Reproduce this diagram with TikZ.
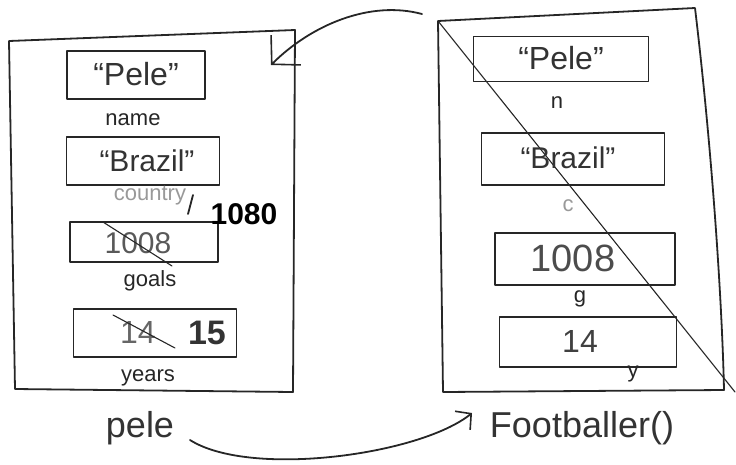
\documentclass[tikz,border=0pt]{standalone}
\usepackage{fontspec}
\setmainfont{Liberation Sans}
\usetikzlibrary{arrows.meta}
\begin{document}
\begin{tikzpicture}[x=1pt,y=-1pt,
  ink/.style={line width=1.8pt, line join=round, line cap=round, draw=black!85},
  thin ink/.style={line width=1.1pt, line cap=round, draw=black!85},
  slot/.style={ink, inner sep=0pt},
  val/.style={font=\fontsize{32}{36}\selectfont, text=black!80},
  lab/.style={font=\fontsize{22}{24}\selectfont, text=black!85},
  faint/.style={font=\fontsize{22}{24}\selectfont, text=black!40},
  title/.style={font=\fontsize{36}{40}\selectfont, text=black!80},
  bigbarb/.style={-{Straight Barb[length=20pt,width=42pt,line width=1.6pt]}},
  smallbarb/.style={-{Straight Barb[length=11pt,width=24pt,line width=1.6pt]}}
]
\useasboundingbox (0,0) rectangle (736,464);

% ---------- left frame (pele object) ----------
\coordinate (L1) at (9,41);
\coordinate (L2) at (295,30);
\coordinate (L3) at (293,392);
\coordinate (L4) at (15,389);
\draw[ink] (L1) -- (L2) -- (L3) -- (L4) -- cycle;

\node[slot, minimum width=138pt, minimum height=48pt] (lp) at (136,75) {};
\node[val] (lpt) at (136,74) {``Pele''};
\node[lab] (lpn) at (133,120) {name};

\node[slot, minimum width=153pt, minimum height=48pt] (lc) at (143,161) {};
\node[val, font=\fontsize{30}{34}\selectfont] (lct) at (147,161) {``Brazil''};
\node[faint] (lcn) at (150,196) {country};
\coordinate (m1) at (193,195);
\coordinate (m2) at (188,214);
\draw[ink] (m1) -- (m2);

\node[slot, minimum width=148pt, minimum height=40pt] (lg) at (144,242) {};
\node[val, font=\fontsize{30}{34}\selectfont, text=black!65] (lgt) at (138,243) {1008};
\coordinate (s1) at (103,222);
\coordinate (s2) at (172,266);
\draw[thin ink] (s1) -- (s2);
\node[lab] (lgn) at (150,281) {goals};
\node[font=\bfseries\fontsize{30}{34}\selectfont] (new) at (244,214) {1080};

\node[slot, minimum width=163pt, minimum height=48pt] (ly) at (155,333) {};
\node[val, text=black!60] (ly14) at (138,332) {14};
\node[val, font=\bfseries\fontsize{34}{38}\selectfont] (ly15) at (207,333) {15};
\coordinate (s3) at (113,315);
\coordinate (s4) at (175,348);
\draw[thin ink] (s3) -- (s4);
\node[lab] (lyn) at (148,378) {years};

\node[title] (pele) at (140,428) {pele};

% ---------- right frame (Footballer() object) ----------
\coordinate (R1) at (438,21);
\coordinate (R2) at (695,8);
\coordinate (R3) at (724,390);
\coordinate (R4) at (443,392);
\draw[ink] (R1) -- (R2) .. controls (712,150) and (722,300) .. (R3) -- (R4) -- cycle;
\coordinate (D2) at (735,392);
\draw[thin ink] (R1) -- (D2);

\node[slot, minimum width=175pt, minimum height=45pt] (rp) at (561,59) {};
\node[val] (rpt) at (561,58) {``Pele''};
\node[lab] (rpn) at (557,103) {n};

\node[slot, minimum width=183pt, minimum height=52pt] (rc) at (573,159) {};
\node[val, font=\fontsize{30}{34}\selectfont] (rct) at (568,158) {``Brazil''};
\node[faint] (rcn) at (568,206) {c};

\node[slot, minimum width=180pt, minimum height=52pt] (rg) at (585,259) {};
\node[val, font=\fontsize{38}{42}\selectfont, text=black!70] (rgt) at (573,258) {1008};
\node[lab] (rgn) at (580,299) {g};

\node[slot, minimum width=177pt, minimum height=50pt] (ry) at (588,342) {};
\node[val, text=black!75] (ryt) at (580,341) {14};
\node[lab] (ryn) at (633,374) {y};

\node[title] (fb) at (582,428) {Footballer()};

% ---------- connectors ----------
\coordinate (t1) at (422,14);
\coordinate (t2) at (271,65);
\draw[ink, bigbarb] (t1) .. controls (370,0) and (311,25) .. (t2);

\coordinate (b1) at (190,440);
\coordinate (b2) at (472,413);
\draw[ink, smallbarb] (b1) .. controls (250,478) and (420,455) .. (b2);
\end{tikzpicture}
\end{document}
